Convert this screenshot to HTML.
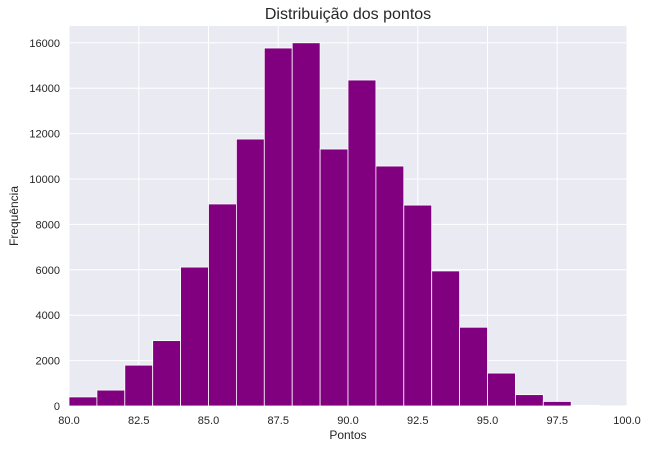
<!DOCTYPE html>
<html><head><meta charset="utf-8"><style>
body{margin:0;background:#fff;width:649px;height:449px;overflow:hidden;font-family:"Liberation Sans","DejaVu Sans",sans-serif}
</style></head><body>
<svg id="chart" width="649" height="449"></svg>
<script>
const binStarts=[80,81,82,83,84,85,86,87,88,89,90,91,92,93,94,95,96,97,98,99];
const counts=[400,700,1800,2880,6120,8900,11760,15770,16000,11320,14360,10570,8850,5950,3470,1450,500,200,30,5];
const xTicks=[80,82.5,85,87.5,90,92.5,95,97.5,100];
const yTicks=[0,2000,4000,6000,8000,10000,12000,14000,16000];
const L=69,R=627,T=26,B=406,X0=80,X1=100,Y1=16740;
const xs=v=>L+(v-X0)/(X1-X0)*(R-L);
const ys=v=>B-v/Y1*(B-T);
const svg=document.getElementById('chart');const NS='http://www.w3.org/2000/svg';
function mk(t,a,p){const e=document.createElementNS(NS,t);for(const k in a)e.setAttribute(k,a[k]);(p||svg).appendChild(e);return e;}
const bg=mk('rect',{x:L,y:T,width:R-L,height:B-T,fill:'#eaeaf2'});


xTicks.forEach(v=>{const l=mk('line',{x1:xs(v),x2:xs(v),y1:T,y2:B,stroke:'#fff','stroke-width':1});


const t=mk('text',{x:xs(v),y:B+18,'text-anchor':'middle','font-size':11,fill:'#262626'});t.textContent=v.toFixed(1);

});
yTicks.forEach(v=>{const l=mk('line',{x1:L,x2:R,y1:ys(v),y2:ys(v),stroke:'#fff','stroke-width':1});


const t=mk('text',{x:L-9,y:ys(v)+4,'text-anchor':'end','font-size':11,fill:'#262626'});t.textContent=v;

});
binStarts.forEach((s,i)=>{const r=mk('rect',{x:xs(s),y:ys(counts[i]),width:xs(s+1)-xs(s),height:B-ys(counts[i]),fill:'#800080',stroke:'#fff','stroke-width':0.8});

});
const title=mk('text',{x:(L+R)/2,y:19,'text-anchor':'middle','font-size':16,fill:'#262626'});title.textContent='Distribuição dos pontos';


const xl=mk('text',{x:(L+R)/2,y:439,'text-anchor':'middle','font-size':12,fill:'#262626'});xl.textContent='Pontos';


const yl=mk('text',{x:18,y:(T+B)/2,'text-anchor':'middle','font-size':12,fill:'#262626',transform:`rotate(-90 18 ${(T+B)/2})`});yl.textContent='Frequência';


</script>
</body></html>
